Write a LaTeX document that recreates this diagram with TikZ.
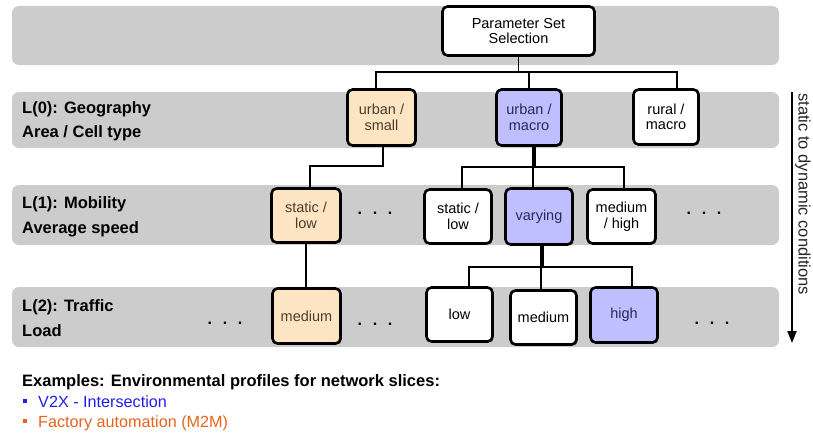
\documentclass[tikz,border=0pt]{standalone}
\usepackage{fontspec}
\setmainfont{Liberation Sans}
\usetikzlibrary{arrows.meta,shadows,calc}
\definecolor{bandgray}{RGB}{204,204,204}
\definecolor{orfill}{RGB}{253,229,196}
\definecolor{blfill}{RGB}{191,191,255}
\definecolor{ortext}{RGB}{75,60,45}
\definecolor{bltext}{RGB}{40,40,90}
\definecolor{exblue}{RGB}{30,30,240}
\definecolor{exorange}{RGB}{228,100,30}
\begin{document}
\begin{tikzpicture}[x=1pt,y=-1pt,
  box/.style={draw=black, line width=2.6pt, rounded corners=5pt, fill=white,
    align=center, inner sep=0pt, font=\fontsize{14.5}{15.5}\selectfont,
    drop shadow={shadow xshift=1.2pt, shadow yshift=-1.2pt, opacity=0.4, fill=black}},
  orbox/.style={box, fill=orfill, text=ortext},
  blbox/.style={box, fill=blfill, text=bltext},
  lvl/.style={anchor=base west, inner sep=0pt, font=\fontsize{16.5}{20}\selectfont\bfseries},
  dotsnode/.style={inner sep=0pt, font=\fontsize{16}{16}\selectfont\bfseries},
  link/.style={draw, line width=1.8pt},
  trunk/.style={draw, line width=3.5pt},
  band/.style={fill=bandgray, rounded corners=7pt}
]
\useasboundingbox (0,0) rectangle (813,436);

% bands
\fill[band] (12,6) rectangle (779,65);
\fill[band] (12,92) rectangle (779,148);
\fill[band] (12,185) rectangle (779,245);
\fill[band] (12,287) rectangle (779,347);

% level labels
\node[lvl] (l0a) at (22,113) {L(0): Geography};
\node[lvl] (l0b) at (22,137) {Area / Cell type};
\node[lvl] (l1a) at (22,208) {L(1): Mobility};
\node[lvl] (l1b) at (22,233) {Average speed};
\node[lvl] (l2a) at (22,311) {L(2): Traffic};
\node[lvl] (l2b) at (22,336) {Load};

% junction coordinates
\coordinate (j0) at (518.5,72);
\coordinate (j1) at (0,166);
\coordinate (j2) at (0,167);
\coordinate (j3) at (0,267);

% boxes
\node[box, minimum width=152pt, minimum height=49pt] (pss) at (518.5,31) {Parameter Set\\Selection};
\node[orbox, minimum width=68pt, minimum height=56pt] (us) at (381.5,117.5) {urban /\\small};
\node[blbox, minimum width=65pt, minimum height=56pt] (um) at (529,117.5) {urban /\\macro};
\node[box, minimum width=65pt, minimum height=55pt] (rm) at (666,117) {rural /\\macro};

\node[orbox, minimum width=69pt, minimum height=54pt] (sl1) at (306,215.5) {static /\\low};
\node[box, minimum width=67pt, minimum height=54pt] (sl2) at (458,216.5) {static /\\low};
\node[blbox, minimum width=67pt, minimum height=56pt] (var) at (539,216.5) {varying};
\node[box, minimum width=68pt, minimum height=54pt] (mh) at (621.5,216.5) {medium\\/ high};

\node[orbox, minimum width=68pt, minimum height=55pt] (med1) at (306.5,316) {medium};
\node[box, minimum width=66pt, minimum height=54pt] (low) at (459.5,314.5) {low};
\node[box, minimum width=66pt, minimum height=54pt] (med2) at (543.5,317.5) {medium};
\node[blbox, minimum width=67pt, minimum height=55pt] (high) at (624,315) {high};

% dots
\node[dotsnode] (d1) at (375,213) {.\hspace{10.6pt}.\hspace{10.6pt}.};
\node[dotsnode] (d2) at (704,213) {.\hspace{10.6pt}.\hspace{10.6pt}.};
\node[dotsnode] (d3) at (225,323) {.\hspace{10.6pt}.\hspace{10.6pt}.};
\node[dotsnode] (d4) at (375,324) {.\hspace{10.6pt}.\hspace{10.6pt}.};
\node[dotsnode] (d5) at (712,323) {.\hspace{10.6pt}.\hspace{10.6pt}.};

% connectors level 0
\draw[link] (pss.south) -- (j0);
\draw[link] ([xshift=-5.5pt]us.north) |- ([xshift=11pt]rm.north |- j0) -- ([xshift=11pt]rm.north);
\draw[link] (um.north) -- (um.north |- j0);

% connectors level 1
\draw[link] ([xshift=1.5pt]us.south) |- ([xshift=4pt]sl1.north |- j1) -- ([xshift=4pt]sl1.north);
\draw[trunk] ([xshift=5pt]um.south) -- ([xshift=5pt]um.south |- j2);
\draw[link] ([xshift=4pt]sl2.north) |- ([xshift=2.5pt]mh.north |- j2) -- ([xshift=2.5pt]mh.north);
\draw[link] ([xshift=-6pt]var.north) -- ([xshift=-6pt]var.north |- j2);

% connectors level 2
\draw[link] (sl1.south) -- (sl1.south |- med1.north);
\draw[trunk] ([xshift=3pt]var.south) -- ([xshift=3pt]var.south |- j3);
\draw[link] ([xshift=9.5pt]low.north) |- ([xshift=8pt]high.north |- j3) -- ([xshift=8pt]high.north);
\draw[link] ([xshift=-2.5pt]med2.north) -- ([xshift=-2.5pt]med2.north |- j3);

% side arrow
\coordinate (atop) at (792,92);
\coordinate (abot) at (792,343);
\draw[line width=2pt, -{Triangle[length=12pt,width=9pt]}] (atop) -- (abot);
\node[rotate=-90, anchor=base west, inner sep=0pt, text=black!85,
  font=\fontsize{16.5}{17}\selectfont] (cond) at (798.5,93) {static to dynamic conditions};

% examples
\node[anchor=base west, inner sep=0pt, font=\fontsize{16.5}{20}\selectfont\bfseries] (ex) at (22,386)
  {Examples: Environmental profiles for network slices:};
\node[fill=exblue, minimum size=4pt, inner sep=0pt] (b1) at (25,401) {};
\node[anchor=base west, inner sep=0pt, text=exblue, font=\fontsize{16.2}{18}\selectfont] (v2x) at (38,407)
  {V2X - Intersection};
\node[fill=exorange, minimum size=4pt, inner sep=0pt] (b2) at (25,421) {};
\node[anchor=base west, inner sep=0pt, text=exorange, font=\fontsize{16.2}{18}\selectfont] (fac) at (38,427)
  {Factory automation (M2M)};
\end{tikzpicture}
\end{document}
